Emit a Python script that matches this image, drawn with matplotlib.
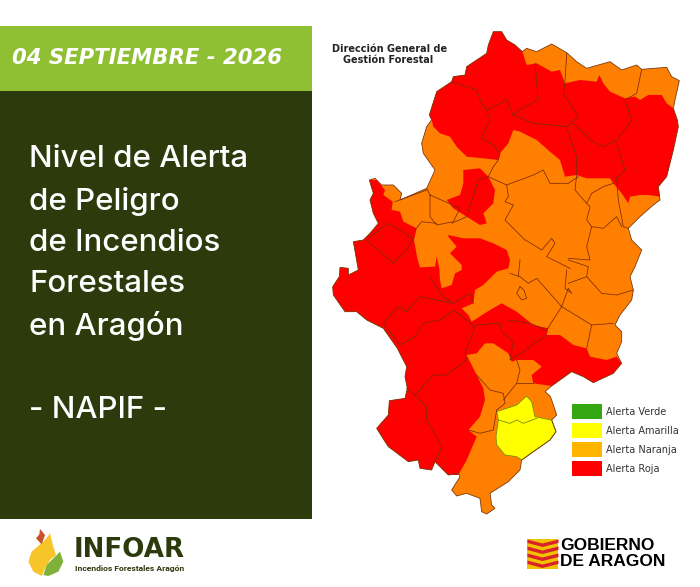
import numpy as np
import matplotlib
matplotlib.use('Agg')
import matplotlib.pyplot as plt
from matplotlib.patches import Polygon, Rectangle

# outlines were traced on 3x crops of the map, see to_px()
# y values are relative to the lower crop, negative means above it
outline = [(520,-685),(545,-685),(560,-660),(585,-645),(607,-625),(620,-635),(650,-625),(695,-648),
           (740,-622),(770,-595),(800,-575),(870,-595),(905,-570),(950,-585),(965,-572),(1040,-578),
           (1055,-550),(1078,-538),(1065,-480),(1060,-455),(1072,-420),(1075,-400),(1060,-330),
           (1050,-290),(1040,-250),(1015,-220),(1020,-180),(1000,-165),(960,-130),(925,-95),(935,-60),
           (965,-30),(945,20),(930,50),(940,90),(935,120),(900,165),(885,195),(905,215),(905,245),
           (890,280),(905,310),(880,340),(820,368),(790,350),(755,335),(720,360),(695,378),(675,395),
           (690,408),(695,420),(710,465),(695,480),(708,515),(690,540),(640,575),(605,600),(600,630),
           (565,665),(510,700),(515,735),(525,745),(500,762),(485,755),(480,715),(440,700),(410,708),
           (395,690),(420,650),(415,640),(385,645),(345,605),(335,630),(300,625),(295,600),(265,605),
           (205,560),(195,545),(170,505),(205,465),(208,422),(255,415),(262,385),(255,350),(260,320),
           (232,265),(190,205),(140,180),(110,155),(75,155),(40,105),(38,80),(58,50),(60,22),(85,25),
           (85,45),(115,30),(100,-55),(130,-60),(150,-80),(175,-110),(160,-140),(150,-180),(160,-200),
           (148,-240),(165,-245),(185,-225),(220,-225),(245,-200),(240,-180),(320,-215),(345,-270),
           (310,-320),(305,-350),(320,-400),(335,-420),(328,-435),(350,-505),(395,-535),(400,-550),
           (435,-555),(440,-580),(500,-620),(505,-645)]

red_north = [(335,-420),(328,-435),(350,-505),(395,-535),(400,-550),(435,-555),(440,-580),(500,-620),
             (505,-645),(520,-685),(545,-685),(560,-660),(585,-645),(607,-625),(620,-585),(650,-590),
             (695,-565),(720,-570),(735,-530),(780,-540),(830,-535),(838,-555),(850,-530),(870,-505),
             (915,-485),(945,-490),(960,-480),(985,-495),(1025,-495),(1040,-470),(1060,-455),(1072,-420),
             (1075,-400),(1060,-330),(1050,-290),(1040,-250),(1015,-220),(1020,-190),(985,-195),(960,-195),
             (930,-190),(925,-170),(905,-200),(880,-230),(870,-245),(800,-245),(770,-255),(735,-250),
             (720,-300),(690,-325),(650,-360),(600,-385),(580,-390),(565,-350),(540,-320),(535,-300),
             (490,-305),(440,-310),(410,-340),(390,-370),(360,-380),(340,-400)]

red_centre = [(430,-270),(480,-275),(505,-250),(525,-210),(520,-170),(490,-140),(500,-110),(480,-105),
              (440,-130),(400,-155),(380,-180),(420,-195),(430,-230)]

red_west = [(148,-240),(170,-240),(195,-210),(190,-195),(218,-175),(215,-150),(240,-145),(250,-115),
            (290,-95),(282,-60),(292,-5),(300,22),(345,20),(350,-10),(358,25),(360,60),(365,85),(395,75),
            (405,40),(425,30),(425,15),(390,-20),(410,-40),(385,-70),(385,-75),(430,-65),(480,-65),
            (520,-50),(560,-30),(570,0),(565,25),(530,35),(490,75),(465,90),(460,130),(425,145),(445,165),
            (455,185),(510,150),(545,130),(590,155),(640,195),(685,205),(680,225),(720,225),(760,255),
            (800,265),(810,290),(860,300),(890,290),(905,310),(880,340),(820,368),(790,350),(755,335),
            (720,360),(695,378),(640,370),(635,345),(665,320),(640,300),(590,300),(575,305),(565,280),
            (520,250),(495,250),(470,280),(440,285),(470,345),(490,385),(495,420),(480,470),(445,510),
            (470,530),(440,600),(415,645),(385,645),(345,605),(335,630),(300,625),(295,600),(265,605),
            (205,560),(195,545),(170,505),(205,465),(208,422),(255,415),(262,385),(255,350),(260,320),
            (232,265),(190,205),(140,180),(110,155),(75,155),(40,105),(38,80),(58,50),(60,22),(85,25),
            (85,45),(115,30),(100,-55),(130,-60),(150,-80),(175,-110),(160,-140),(150,-180),(160,-200)]

yellow_zone = [(530,455),(590,435),(620,408),(635,425),(645,470),(695,480),(708,515),(690,540),(640,575),
               (605,600),(590,590),(555,585),(530,555),(528,530),(535,480)]

borders = [
    [(395,-535),(470,-510),(485,-470),(500,-450),(560,-480),(580,-435),(605,-455),(655,-480),(645,-590)],
    [(580,-435),(640,-410),(740,-400),(775,-430),(730,-500),(735,-535),(740,-620)],
    [(740,-400),(770,-310),(770,-255),(765,-210),(800,-170),(815,-200),(850,-220),(880,-230)],
    [(760,-410),(810,-360),(850,-340),(890,-360),(935,-420),(915,-480),(950,-500),(965,-572)],
    [(890,-350),(915,-270),(890,-245),(895,-180),(910,-100),(925,-95)],
    [(500,-450),(510,-420),(485,-365),(520,-345),(540,-320),(535,-300),(520,-280),(505,-250),(560,-225),
     (640,-255),(670,-270),(690,-230),(745,-230),(775,-250)],
    [(560,-225),(565,-190),(555,-175),(580,-165),(555,-120),(615,-60),(625,-55),(665,-30),(695,-65),
     (705,-50),(680,-10),(750,25)],
    [(800,-170),(810,-160),(800,-120),(815,-100),(850,-95),(890,-130),(905,-100)],
    [(815,-100),(800,-40),(810,0),(745,-5)],
    [(320,-215),(330,-195),(375,-175),(420,-155),(400,-115),(350,-105),(330,-130),(330,-195)],
    [(225,-175),(320,-210)],
    [(350,-110),(305,-115),(285,-90)],
    [(395,-110),(440,-130),(475,-240),(505,-250)],
    [(140,-60),(220,10),(260,-30),(280,-65),(205,-110),(145,-65)],
    [(190,190),(235,140),(260,155),(300,110),(400,130),(450,100),(460,130)],
    [(190,190),(240,255),(285,230),(310,190),(360,180),(400,150),(465,200),(435,280),(440,300),(380,345),
     (340,345),(285,405),(260,385)],
    [(285,405),(320,440),(320,480),(365,560),(345,605)],
    [(330,50),(370,110),(400,130)],
    [(465,195),(540,190),(545,215),(580,245),(570,300),(610,275),(680,225)],
    [(565,180),(630,190),(680,210),(725,140),(745,85),(755,100),(735,85),(740,30)],
    [(725,140),(815,195),(800,265)],
    [(815,195),(880,190)],
    [(600,80),(590,100),(605,120),(620,115),(612,90),(600,80)],
    [(570,40),(600,50),(625,70),(650,55),(725,140)],
    [(595,50),(600,0)],
    [(470,345),(510,390),(550,400),(555,430),(530,450),(520,510),(480,520),(445,510)],
    [(590,300),(600,330),(590,370),(550,420)],
    [(590,370),(640,370)],
    [(745,70),(800,50),(845,100),(890,105),(940,90)],
    [(800,50),(805,20),(745,0)],
]

yellow_split = [(535,480),(570,490),(590,480),(610,490),(650,475)]

legend_labels = ['Alerta Verde', 'Alerta Amarilla', 'Alerta Naranja', 'Alerta Roja']
legend_colors = ['#33a812', '#ffff00', '#ffb400', '#ff0000']

title_lines = ['Nivel de Alerta', 'de Peligro', 'de Incendios', 'Forestales', 'en Aragón']
title_y = [159, 201, 243, 284, 326]

# logo shapes, traced on the 3x crop of the footer
flame_yellow = [(118,90),(135,75),(150,55),(160,95),(168,120),(150,135),(135,160),(125,183),(100,170),(85,140),(95,110)]
flame_tip = [(120,42),(135,60),(125,88),(108,70),(118,58)]
flame_leaf = [(180,110),(190,140),(175,170),(145,183),(130,180),(140,150)]

flag_red_y = [541, 548, 555, 562]


def to_px(points, x0=320, y0=260):
    pts = np.array(points, dtype=float)
    return np.column_stack((x0 + pts[:, 0] / 3, y0 + pts[:, 1] / 3))


fig = plt.figure(figsize=(7, 5.87), dpi=100)
ax = fig.add_axes([0, 0, 1, 1])
ax.set_xlim(0, 700)
ax.set_ylim(587, 0)
ax.axis('off')

# left panel
ax.add_patch(Rectangle((0, 26), 312, 65, color='#8fbf33', lw=0))
ax.add_patch(Rectangle((0, 91), 312, 428, color='#2c3a0c', lw=0))
ax.text(147.5, 58, '04 SEPTIEMBRE - 2026', color='white', fontsize=15.3, fontweight='bold', style='oblique',
        family='DejaVu Sans', ha='center', va='center')
for line, y in zip(title_lines, title_y):
    ax.text(29, y, line, color='white', fontsize=22.5, family='Inter', fontweight='medium', va='center')
ax.text(29, 410, '- NAPIF -', color='white', fontsize=22.5, family='Inter', fontweight='medium', va='center')

# map
ax.add_patch(Polygon(to_px(outline), closed=True, fc='#ff8000', ec='none', lw=0))
for shape in (red_north, red_centre, red_west):
    ax.add_patch(Polygon(to_px(shape), closed=True, fc='#ff0000', ec='none', lw=0))
ax.add_patch(Polygon(to_px(yellow_zone), closed=True, fc='#ffff00', ec='#7a8a10', lw=0.6))
for line in borders:
    pts = to_px(line)
    ax.plot(pts[:, 0], pts[:, 1], color='#7a2a08', lw=0.55)
pts = to_px(yellow_split)
ax.plot(pts[:, 0], pts[:, 1], color='#7a8a10', lw=0.6)
ax.add_patch(Polygon(to_px(outline), closed=True, fc='none', ec='#7a3a10', lw=0.6))

ax.text(390, 49, 'Dirección General de', fontsize=7, fontweight='bold', color='#222222', ha='center', va='center')
ax.text(388, 60, 'Gestión Forestal', fontsize=7, fontweight='bold', color='#222222', ha='center', va='center')

# legend
for i, (label, col) in enumerate(zip(legend_labels, legend_colors)):
    y = 404 + i * 19
    ax.add_patch(Rectangle((572, y), 30, 15, color=col, lw=0))
    ax.text(606, y + 8, label, fontsize=7, color='#333333', va='center')

# footer logos
ax.add_patch(Polygon(to_px(flame_yellow, 0, 515), closed=True, fc='#f7c52a', ec='none'))
ax.add_patch(Polygon(to_px(flame_tip, 0, 515), closed=True, fc='#c8502a', ec='none'))
ax.add_patch(Polygon(to_px(flame_leaf, 0, 515), closed=True, fc='#7fb23a', ec='none'))
ax.text(74, 550, 'INFOAR', fontsize=18.8, fontweight='bold', family='DejaVu Sans', color='#2c3a0c', va='center')
ax.text(75, 569, 'Incendios Forestales Aragón', fontsize=6.1, fontweight='bold', family='Roboto', color='#2c3a0c', va='center')

ax.add_patch(Rectangle((527, 539), 31, 30, color='#f2c200', lw=0))
xs = np.array([527, 542, 558])
for y in flag_red_y:
    ax.fill_between(xs, [y - 2, y + 2, y - 2], [y + 1.5, y + 5.5, y + 1.5], color='#d8232a', lw=0)
ax.text(560, 546, 'GOBIERNO', fontsize=12.5, fontweight='bold', family='Liberation Sans', color='black', va='center')
ax.text(560, 561, 'DE ARAGON', fontsize=12.5, fontweight='bold', family='Liberation Sans', color='black', va='center')

fig.savefig('out.png', dpi=100, facecolor='white')
